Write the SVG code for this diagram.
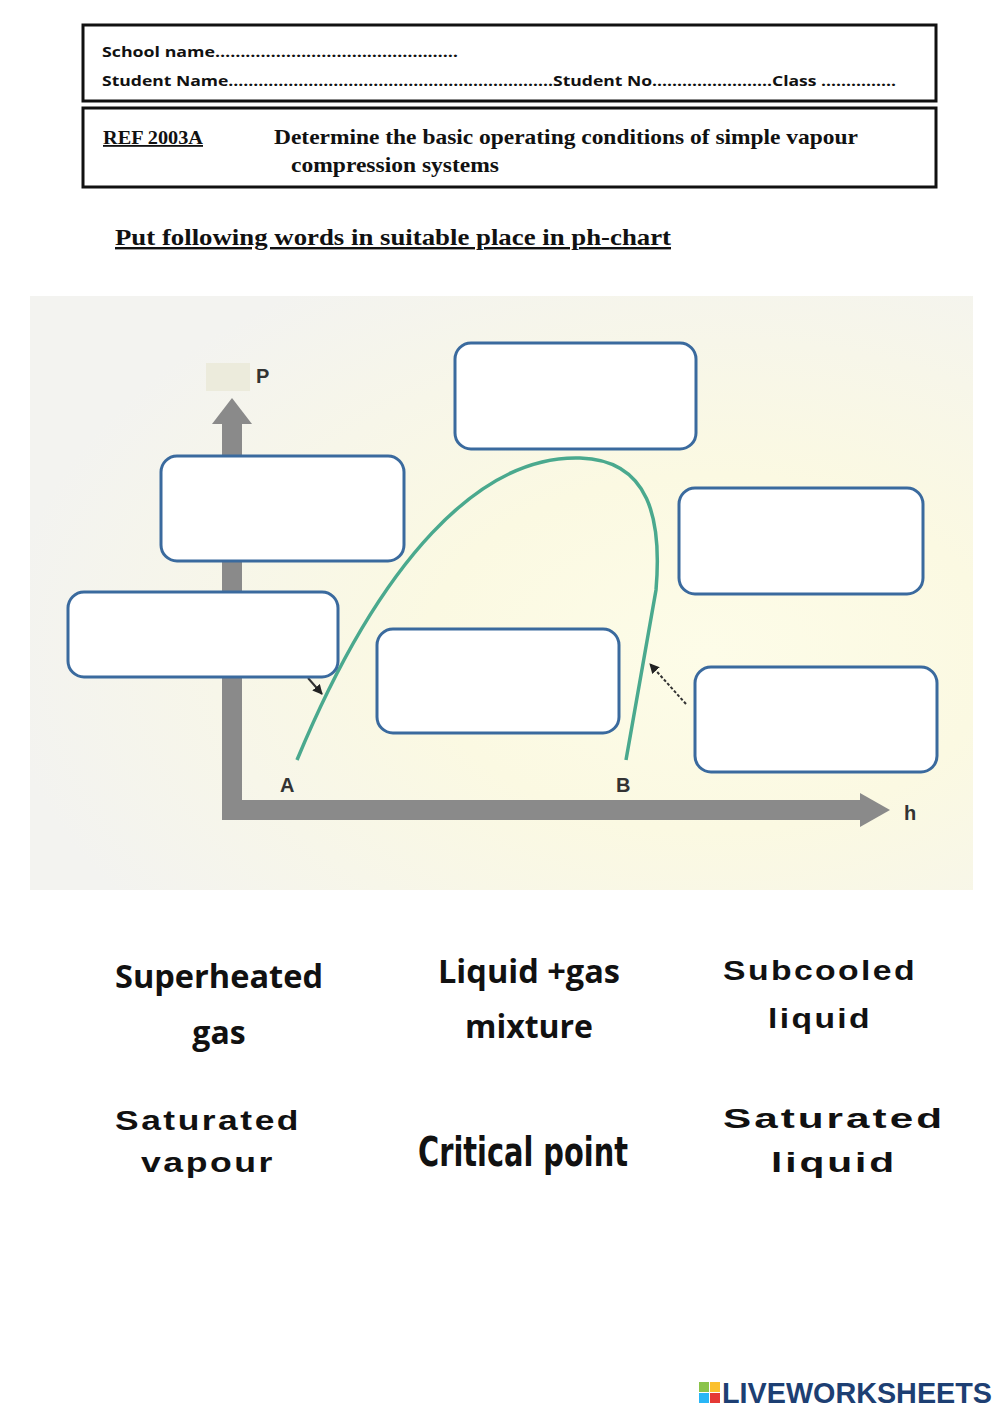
<svg xmlns="http://www.w3.org/2000/svg" width="1000" height="1413" viewBox="0 0 1000 1413">
<style>
.hdr{font-family:"Open Sans","Liberation Sans",sans-serif;font-size:15px;font-weight:bold;fill:#111}
.ser{font-family:"Liberation Serif",serif;font-weight:bold;fill:#111}
.box{fill:#fff;stroke:#3a6a9e;stroke-width:3}
.ax{font-family:"Liberation Sans",sans-serif;font-weight:bold;font-size:20px;fill:#333}
.w{font-family:"Open Sans","Liberation Sans",sans-serif;font-weight:bold;font-size:32px;fill:#111;text-anchor:middle}
.ws{font-family:"Liberation Sans",sans-serif;font-weight:bold;font-size:28px;fill:#111;text-anchor:middle;letter-spacing:2px}
</style>
<defs>
<radialGradient id="bg" cx="0.72" cy="0.6" r="0.75">
<stop offset="0" stop-color="#fdfce8"/><stop offset="0.4" stop-color="#fbf9e2"/><stop offset="1" stop-color="#f3f3f0"/>
</radialGradient>
<marker id="ah" viewBox="0 0 10 10" refX="9" refY="5" markerWidth="5" markerHeight="5" orient="auto"><path d="M0,0L10,5L0,10z" fill="#222"/></marker>
</defs>
<rect width="1000" height="1413" fill="#fff"/>
<g id="header">
<rect x="83" y="25" width="853" height="76" fill="none" stroke="#111" stroke-width="3"/>
<text class="hdr" x="102" y="57" textLength="356" lengthAdjust="spacingAndGlyphs">School name…………………………………………</text>
<text class="hdr" x="102" y="86" textLength="794" lengthAdjust="spacingAndGlyphs">Student Name………………………………………………………..Student No……………………Class ……………</text>
<rect x="83" y="108" width="853" height="79" fill="none" stroke="#111" stroke-width="3"/>
<text class="ser" x="103" y="144" font-size="18" text-decoration="underline" textLength="100" lengthAdjust="spacingAndGlyphs">REF 2003A</text>
<text class="ser" x="274" y="144" font-size="21" textLength="584" lengthAdjust="spacingAndGlyphs">Determine the basic operating conditions of simple vapour</text>
<text class="ser" x="291" y="172" font-size="21" textLength="208" lengthAdjust="spacingAndGlyphs">compression systems</text>
<text class="ser" x="115" y="245" font-size="24" text-decoration="underline" textLength="556" lengthAdjust="spacingAndGlyphs">Put following words in suitable place in ph-chart</text>
</g>
<rect x="30" y="296" width="943" height="594" fill="url(#bg)"/>
<g id="axes">
<rect x="206" y="363" width="44" height="28" fill="#ecebdc"/>
<rect x="222" y="420" width="20" height="400" fill="#8a8a8a"/>
<path d="M212,424L232,398L252,424z" fill="#8a8a8a"/>
<rect x="222" y="800" width="640" height="20" fill="#8a8a8a"/>
<path d="M860,793L890,810L860,827z" fill="#8a8a8a"/>
<text class="ax" x="256" y="383">P</text>
<text class="ax" x="904" y="820">h</text>
<text class="ax" x="280" y="792">A</text>
<text class="ax" x="616" y="792">B</text>
</g>
<g id="connectors">
<path d="M297,760 C380,560 480,455 580,458 C650,460 662,520 656,590 L626,760" fill="none" stroke="#4aa98e" stroke-width="3.5"/>
<line x1="308" y1="678" x2="322" y2="694" stroke="#333" stroke-width="2" marker-end="url(#ah)"/>
<line x1="686" y1="704" x2="650" y2="664" stroke="#333" stroke-width="2" stroke-dasharray="3,2" marker-end="url(#ah)"/>
</g>
<g id="box1"><rect class="box" x="455" y="343" width="241" height="106" rx="16"/></g>
<g id="box2"><rect class="box" x="161" y="456" width="243" height="105" rx="16"/></g>
<g id="box3"><rect class="box" x="679" y="488" width="244" height="106" rx="16"/></g>
<g id="box4"><rect class="box" x="68" y="592" width="270" height="85" rx="16"/></g>
<g id="box5"><rect class="box" x="377" y="629" width="242" height="104" rx="16"/></g>
<g id="box6"><rect class="box" x="695" y="667" width="242" height="105" rx="16"/></g>
<g id="words">
<text class="w" x="219" y="988" textLength="208" lengthAdjust="spacingAndGlyphs">Superheated</text>
<text class="w" x="219" y="1044">gas</text>
<text class="w" x="529" y="983" textLength="182" lengthAdjust="spacingAndGlyphs">Liquid +gas</text>
<text class="w" x="529" y="1038">mixture</text>
<text class="ws" x="820" y="980" textLength="194" lengthAdjust="spacingAndGlyphs">Subcooled</text>
<text class="ws" x="820" y="1028" textLength="104" lengthAdjust="spacingAndGlyphs">liquid</text>
<text class="ws" x="208" y="1130" textLength="186" lengthAdjust="spacingAndGlyphs">Saturated</text>
<text class="ws" x="208" y="1172" textLength="134" lengthAdjust="spacingAndGlyphs">vapour</text>
<text x="418" y="1166" font-family="'Liberation Sans Narrow','DejaVu Sans Condensed',sans-serif" font-weight="bold" font-size="40" fill="#111" textLength="210" lengthAdjust="spacingAndGlyphs">Critical point</text>
<text class="ws" x="834" y="1128" textLength="222" lengthAdjust="spacingAndGlyphs">Saturated</text>
<text class="ws" x="834" y="1172" textLength="126" lengthAdjust="spacingAndGlyphs">liquid</text>
</g>
<g id="logo">
<rect x="699" y="1382" width="10" height="10" fill="#8bc34a"/><rect x="710" y="1382" width="10" height="10" fill="#fbc02d"/>
<rect x="699" y="1393" width="10" height="10" fill="#29b6f6"/><rect x="710" y="1393" width="10" height="10" fill="#e53935"/>
<text x="722" y="1403" font-family="'Liberation Sans',sans-serif" font-weight="bold" font-size="29" fill="#1d3f73" textLength="270" lengthAdjust="spacingAndGlyphs">LIVEWORKSHEETS</text>
</g>
</svg>
